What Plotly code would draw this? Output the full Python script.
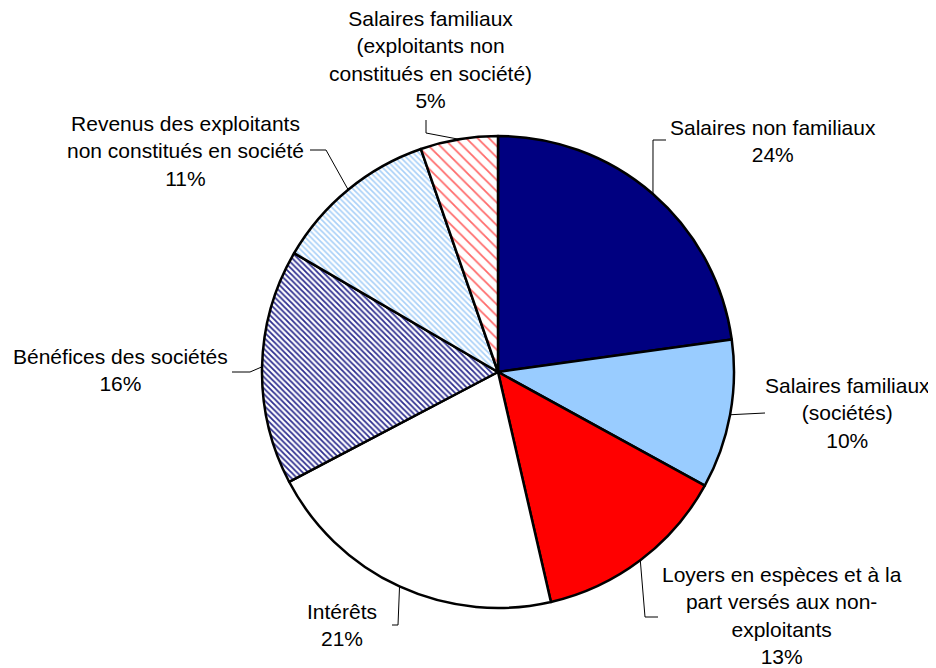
import math
import plotly.graph_objects as go

# Data (slice sizes, labels as printed)
categories = [
    "Salaires non familiaux",
    "Salaires familiaux<br>(sociétés)",
    "Loyers en espèces et à la<br>part versés aux non-<br>exploitants",
    "Intérêts",
    "Bénéfices des sociétés",
    "Revenus des exploitants<br>non constitués en société",
    "Salaires familiaux<br>(exploitants non<br>constitués en société)",
]
values = [22.8, 10.2, 13.4, 20.9, 16.1, 11.3, 5.3]
pct_labels = ["24%", "10%", "13%", "21%", "16%", "11%", "5%"]

colors = ["#000080", "#99ccff", "#ff0000", "#ffffff", "#ffffff", "#ffffff", "#ffffff"]
pat_shapes = ["", "", "", "", "\\", "\\", "\\"]
pat_fg = ["#000080", "#99ccff", "#ff0000", "#ffffff", "#2e2e8f", "#a8d0f8", "#ff6a6a"]
pat_size = [4, 4, 4, 4, 4, 4, 8]
pat_sol = [0.3, 0.3, 0.3, 0.3, 0.45, 0.4, 0.22]

OFF = 8  # browser body margin
W, H = 936 - OFF, 668 - OFF
cx, cy, R = 498 - OFF, 372 - OFF, 236

# label anchors (pixel, in window coords) and leader-line elbows
label_pos = [(773, 141), (847, 413), (782, 615), (342, 625), (120, 370), (185, 151), (430, 60)]
elbows = [
    [(653, 140), (666, 140)],
    [(765, 413)],
    [(645, 617), (658, 617)],
    [(398, 625), (392, 625)],
    [(250, 372), (232, 372)],
    [(326, 150), (310, 150)],
    [(426, 133), (426, 120)],
]

fig = go.Figure(go.Pie(
    labels=categories,
    values=values,
    sort=False,
    direction="clockwise",
    rotation=0,
    textinfo="none",
    hoverinfo="label+percent",
    showlegend=False,
    marker=dict(
        colors=colors,
        line=dict(color="black", width=2.5),
        pattern=dict(shape=pat_shapes, fgcolor=pat_fg, size=pat_size, solidity=pat_sol),
    ),
    domain=dict(x=[(cx - R) / W, (cx + R) / W], y=[(H - cy - R) / H, (H - cy + R) / H]),
))

def px2paper(x, y):
    return x / W, 1 - y / H

total = sum(values)
cum = 0
annotations = []
shapes = []
for i, v in enumerate(values):
    mid = (cum + v / 2) / total * 2 * math.pi
    cum += v
    ex = cx + R * math.sin(mid)
    ey = cy - R * math.cos(mid)
    pts = [(ex, ey)] + [(x - OFF, y - OFF) for x, y in elbows[i]]
    path = "M " + " L ".join(f"{px2paper(x, y)[0]},{px2paper(x, y)[1]}" for x, y in pts)
    shapes.append(dict(type="path", xref="paper", yref="paper", path=path,
                       line=dict(color="black", width=1)))
    lx, ly = px2paper(label_pos[i][0] - OFF, label_pos[i][1] - OFF)
    annotations.append(dict(
        x=lx, y=ly, xref="paper", yref="paper", showarrow=False,
        text=categories[i] + "<br>" + pct_labels[i],
        font=dict(family="Liberation Sans, Arial", size=21, color="black"),
        align="center", xanchor="center", yanchor="middle",
    ))

fig.update_layout(
    width=W, height=H,
    margin=dict(l=0, r=0, t=0, b=0),
    paper_bgcolor="white", plot_bgcolor="white",
    annotations=annotations, shapes=shapes,
)
fig.write_html("out.html")
